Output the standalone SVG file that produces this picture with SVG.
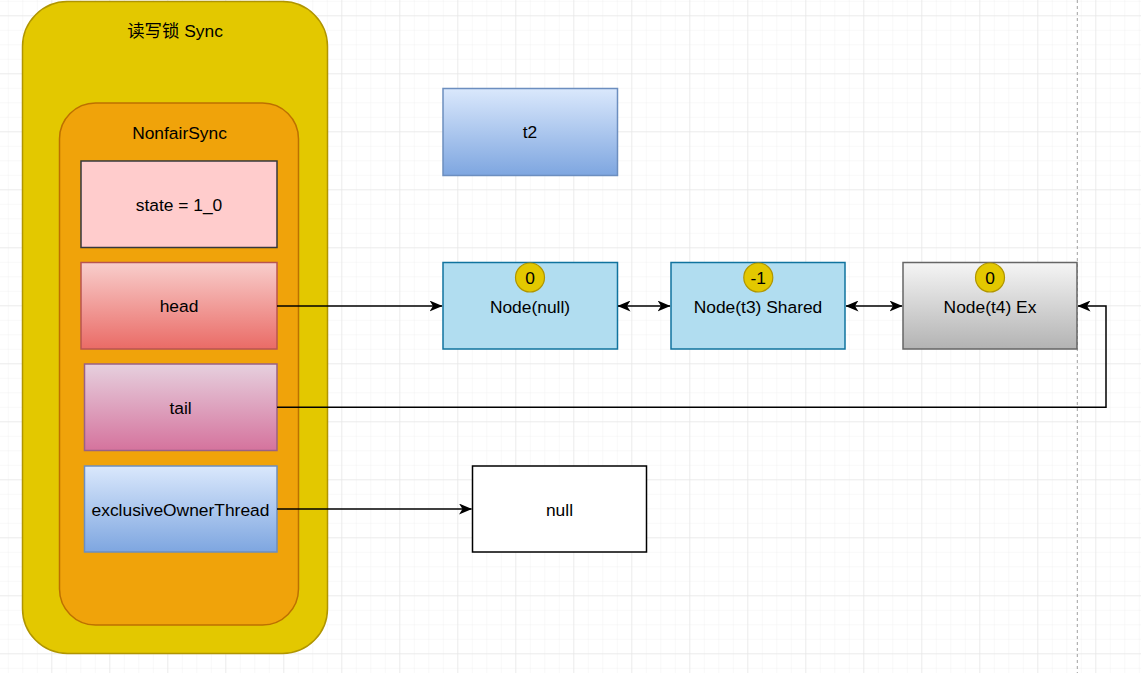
<svg xmlns="http://www.w3.org/2000/svg" width="1141" height="673" viewBox="0 0 1141 673">
  <defs>
    <pattern id="gridMinor" width="14.5" height="14.5" x="7.8" y="0.8" patternUnits="userSpaceOnUse">
      <path d="M0 0 H14.5 M0 0 V14.5" fill="none" stroke="#f1f1f1" stroke-width="1"/>
    </pattern>
    <pattern id="gridMajor" width="58" height="58" x="51.3" y="15.3" patternUnits="userSpaceOnUse">
      <path d="M0 0 H58 M0 0 V58" fill="none" stroke="#e1e1e1" stroke-width="1"/>
    </pattern>
    <linearGradient id="gHead" x1="0" y1="0" x2="0" y2="1">
      <stop offset="0" stop-color="#f8cecc"/><stop offset="1" stop-color="#ea6b66"/>
    </linearGradient>
    <linearGradient id="gTail" x1="0" y1="0" x2="0" y2="1">
      <stop offset="0" stop-color="#e6d0de"/><stop offset="1" stop-color="#d5739d"/>
    </linearGradient>
    <linearGradient id="gBlue" x1="0" y1="0" x2="0" y2="1">
      <stop offset="0" stop-color="#dae8fc"/><stop offset="1" stop-color="#7ea6e0"/>
    </linearGradient>
    <linearGradient id="gGray" x1="0" y1="0" x2="0" y2="1">
      <stop offset="0" stop-color="#f5f5f5"/><stop offset="1" stop-color="#b3b3b3"/>
    </linearGradient>
    <marker id="arrEnd" viewBox="0 0 13 11" refX="12.5" refY="5.5" markerWidth="13" markerHeight="11" markerUnits="userSpaceOnUse" orient="auto">
      <path d="M0 0 L13 5.5 L0 11 L3.5 5.5 Z" fill="#000"/>
    </marker>
    <marker id="arrStart" viewBox="0 0 13 11" refX="12.5" refY="5.5" markerWidth="13" markerHeight="11" markerUnits="userSpaceOnUse" orient="auto-start-reverse">
      <path d="M0 0 L13 5.5 L0 11 L3.5 5.5 Z" fill="#000"/>
    </marker>
  </defs>
  <style>
    text { font-family: "Liberation Sans", Arial, "Noto Sans CJK SC", sans-serif; font-size: 17.4px; fill: #000; text-anchor: middle; dominant-baseline: central; }
    .box { stroke-width: 1.5; }
    .edge { fill: none; stroke: #000; stroke-width: 1.5; }
    .badge { fill: #e3c800; stroke: #b09500; stroke-width: 1.2; }
  </style>

  <rect width="1141" height="673" fill="#ffffff"/>
  <rect width="1141" height="673" fill="url(#gridMinor)"/>
  <rect width="1141" height="673" fill="url(#gridMajor)"/>
  <line x1="1077.3" y1="0" x2="1077.3" y2="673" stroke="#a0a0a0" stroke-width="1" stroke-dasharray="3 3"/>

  <g id="sync">
    <rect x="22.5" y="1.5" width="305" height="652" rx="45" ry="45" fill="#e3c800" stroke="#b09500" class="box"/>
    <text x="175" y="31">读写锁 Sync</text>
  </g>
  <g id="nonfairSync">
    <rect x="59.5" y="103" width="239" height="522" rx="36" ry="36" fill="#f0a30a" stroke="#bd7000" class="box"/>
    <text x="179.5" y="133">NonfairSync</text>
  </g>
  <g id="state">
    <rect x="81" y="161" width="196" height="86.5" fill="#ffcccc" stroke="#36393d" class="box"/>
    <text x="179" y="205">state = 1_0</text>
  </g>
  <g id="head">
    <rect x="81" y="262.5" width="196" height="86.5" fill="url(#gHead)" stroke="#b85450" class="box"/>
    <text x="179" y="306">head</text>
  </g>
  <g id="tail">
    <rect x="84.5" y="364" width="192.5" height="86.5" fill="url(#gTail)" stroke="#996185" class="box"/>
    <text x="180.5" y="408">tail</text>
  </g>
  <g id="owner">
    <rect x="84.5" y="466" width="192.5" height="86" fill="url(#gBlue)" stroke="#6c8ebf" class="box"/>
    <text x="180.5" y="510">exclusiveOwnerThread</text>
  </g>
  <g id="t2">
    <rect x="443" y="88.5" width="174.5" height="87" fill="url(#gBlue)" stroke="#6c8ebf" class="box"/>
    <text x="530" y="132">t2</text>
  </g>
  <g id="nodeNull">
    <rect x="443" y="262.5" width="174.5" height="86.5" fill="#b1ddf0" stroke="#10739e" class="box"/>
    <text x="530" y="307">Node(null)</text>
    <circle cx="530" cy="277.5" r="14.5" class="badge"/>
    <text x="530" y="278">0</text>
  </g>
  <g id="nodeT3">
    <rect x="671" y="262.5" width="174" height="86.5" fill="#b1ddf0" stroke="#10739e" class="box"/>
    <text x="758" y="307">Node(t3) Shared</text>
    <circle cx="758.3" cy="277.5" r="14.5" class="badge"/>
    <text x="758.3" y="278">-1</text>
  </g>
  <g id="nodeT4">
    <rect x="903" y="262.5" width="174" height="86.5" fill="url(#gGray)" stroke="#666666" class="box"/>
    <text x="990" y="307">Node(t4) Ex</text>
    <circle cx="990" cy="277.5" r="14.5" class="badge"/>
    <text x="990" y="278">0</text>
  </g>
  <g id="nullBox">
    <rect x="472.5" y="466" width="174" height="86" fill="#ffffff" stroke="#000000" class="box"/>
    <text x="559.5" y="510">null</text>
  </g>

  <g id="connectors">
    <path class="edge" d="M277 306 H442" marker-end="url(#arrEnd)"/>
    <path class="edge" d="M618 306 H670" marker-start="url(#arrStart)" marker-end="url(#arrEnd)"/>
    <path class="edge" d="M846 306 H902" marker-start="url(#arrStart)" marker-end="url(#arrEnd)"/>
    <path class="edge" d="M277 407.3 H1106 V306 H1078" marker-end="url(#arrEnd)"/>
    <path class="edge" d="M277 509 H471.5" marker-end="url(#arrEnd)"/>
  </g>
</svg>
